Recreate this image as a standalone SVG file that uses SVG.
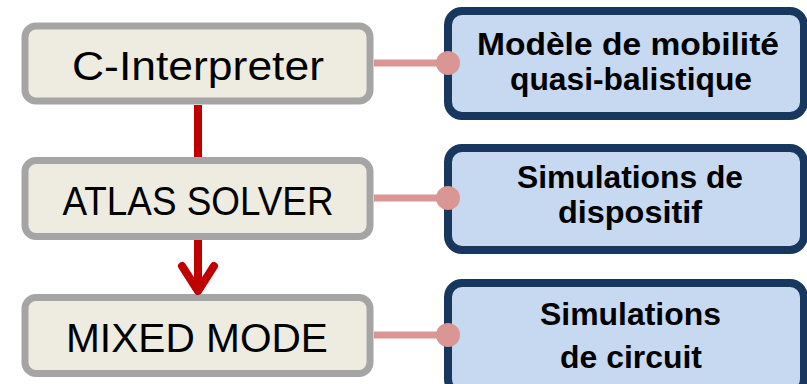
<svg xmlns="http://www.w3.org/2000/svg" width="807" height="384" viewBox="0 0 807 384">
  <style>
    .lbox { fill: #EEECE1; stroke: #A5A5A5; stroke-width: 7; }
    .rbox { fill: #C6D9F1; stroke: #17375E; stroke-width: 8; }
    .ltxt { font-family: "Liberation Sans", Arial, sans-serif; font-size: 41px; fill: #000; text-anchor: middle; }
    .rtxt { font-family: "Liberation Sans", Arial, sans-serif; font-size: 31px; font-weight: bold; fill: #000; text-anchor: middle; }
    .flow { stroke: #C00000; stroke-width: 8; fill: none; stroke-linecap: round; stroke-linejoin: round; }
    .link { stroke: #D99694; stroke-width: 7; fill: none; }
    .dot { fill: #D99694; }
  </style>
  <rect width="807" height="384" fill="#FFFFFF"/>

  <g id="node-c-interpreter">
    <rect class="lbox" x="25" y="26" width="345" height="75" rx="11"/>
    <text class="ltxt" x="198" y="80" textLength="252" lengthAdjust="spacingAndGlyphs">C-Interpreter</text>
  </g>
  <g id="node-atlas-solver">
    <rect class="lbox" x="25" y="160.5" width="345" height="76" rx="11"/>
    <text class="ltxt" x="198" y="215" textLength="271" lengthAdjust="spacingAndGlyphs">ATLAS SOLVER</text>
  </g>
  <g id="node-mixed-mode">
    <rect class="lbox" x="25" y="297.5" width="345" height="76" rx="11"/>
    <text class="ltxt" x="197" y="352" textLength="262" lengthAdjust="spacingAndGlyphs">MIXED MODE</text>
  </g>

  <g id="node-mobilite">
    <rect class="rbox" x="448" y="11" width="356" height="105" rx="14"/>
    <text class="rtxt" x="628" y="55" textLength="302" lengthAdjust="spacingAndGlyphs">Modèle de mobilité</text>
    <text class="rtxt" x="631" y="90" textLength="242" lengthAdjust="spacingAndGlyphs">quasi-balistique</text>
  </g>
  <g id="node-dispositif">
    <rect class="rbox" x="448" y="148" width="356" height="102" rx="14"/>
    <text class="rtxt" x="630" y="188" textLength="226" lengthAdjust="spacingAndGlyphs">Simulations de</text>
    <text class="rtxt" x="630" y="223" textLength="144" lengthAdjust="spacingAndGlyphs">dispositif</text>
  </g>
  <g id="node-circuit">
    <rect class="rbox" x="448" y="283" width="356" height="110" rx="14"/>
    <text class="rtxt" x="630.5" y="325" textLength="181" lengthAdjust="spacingAndGlyphs">Simulations</text>
    <text class="rtxt" x="631" y="368" textLength="142" lengthAdjust="spacingAndGlyphs">de circuit</text>
  </g>

  <g id="connectors">
    <line class="flow" x1="198" y1="105" x2="198" y2="157" style="stroke-linecap: butt"/>
    <line class="flow" x1="198" y1="240" x2="198" y2="290" style="stroke-linecap: butt"/>
    <polyline class="flow" points="182,266 198,291 214,266"/>
    <line class="link" x1="374" y1="63" x2="448" y2="63"/>
    <circle class="dot" cx="448" cy="63" r="12"/>
    <line class="link" x1="374" y1="198" x2="448" y2="198"/>
    <circle class="dot" cx="448" cy="198" r="12"/>
    <line class="link" x1="374" y1="335" x2="448" y2="335"/>
    <circle class="dot" cx="448" cy="335" r="12"/>
  </g>
</svg>
